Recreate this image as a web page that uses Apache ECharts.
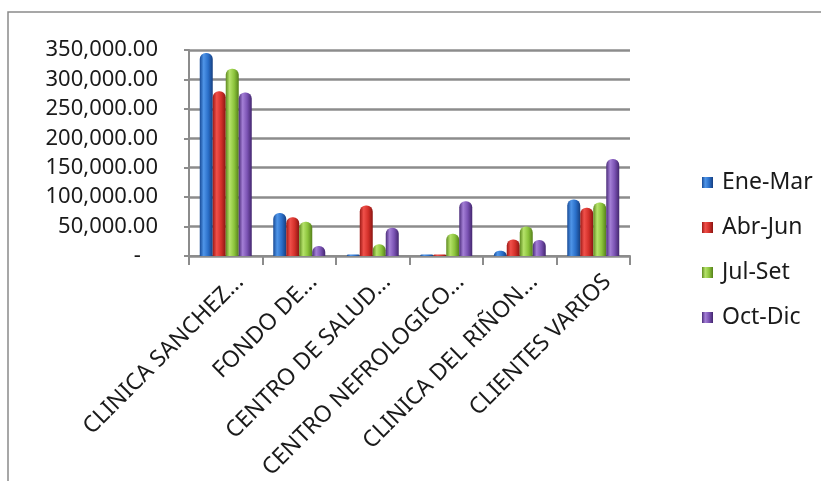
<!DOCTYPE html>
<html>
<head>
<meta charset="utf-8">
<script src="https://cdn.jsdelivr.net/npm/echarts@6/dist/echarts.min.js"></script>
<style>
  html, body { margin: 0; padding: 0; background: #fff; }
  #chart { width: 821px; height: 481px; }
</style>
</head>
<body>
<div id="chart"></div>
<script>
// datos
const categorias = ['CLINICA SANCHEZ...', 'FONDO DE...', 'CENTRO DE SALUD...', 'CENTRO NEFROLOGICO...', 'CLINICA DEL RIÑON...', 'CLIENTES VARIOS'];
const series = ['Ene-Mar', 'Abr-Jun', 'Jul-Set', 'Oct-Dic'];
const eneMar = [345000, 73000, 2500, 2500, 9000, 96000];
const abrJun = [280000, 66000, 86000, 2500, 28000, 82000];
const julSet = [318000, 58000, 20000, 38000, 50000, 91000];
const octDic = [278000, 17000, 48000, 93000, 27000, 165000];
const yTicks = [0, 50000, 100000, 150000, 200000, 250000, 300000, 350000];

const valores = [eneMar, abrJun, julSet, octDic];
// colores tipo cilindro: borde oscuro, centro claro
const colores = [
  ['#174a96', '#4f95e8', '#2a6fc9', '#163f80'],
  ['#9e1a16', '#f0504a', '#d3302a', '#8a1512'],
  ['#5e8a1f', '#b5e26a', '#8cc43c', '#55801a'],
  ['#4b2c7a', '#a47fd6', '#7a52b3', '#43266e']
];
const leyenda = ['#2f78d2', '#d3302a', '#8cc43c', '#7a52b3'];

const myChart = echarts.init(document.getElementById('chart'));

const option = {
  animation: false,
  textStyle: { fontFamily: 'Noto Sans' },
  graphic: [{
    type: 'rect',
    shape: { x: 8, y: 12, width: 830, height: 500 },
    style: { fill: 'none', stroke: '#8a8a8a', lineWidth: 1.5 },
    silent: true
  }],
  legend: {
    orient: 'vertical',
    left: 697,
    top: 166,
    icon: 'rect',
    itemWidth: 11,
    itemHeight: 11,
    itemGap: 22,
    textStyle: { fontSize: 23, color: '#1a1a1a', lineHeight: 23, padding: [0, 0, 0, 4] },
    data: series
  },
  grid: { left: 189, right: 191, top: 50, bottom: 225, outerBoundsMode: 'none' },
  xAxis: {
    type: 'category',
    data: categorias,
    axisLine: { lineStyle: { color: '#8c8c8c', width: 2 } },
    axisTick: { show: true, length: 9, lineStyle: { color: '#8c8c8c', width: 2 } },
    axisLabel: {
      rotate: 45,
      fontSize: 23,
      color: '#1a1a1a',
      margin: 8,
      interval: 0,
      verticalAlign: 'top',
      lineHeight: 40
    }
  },
  yAxis: {
    type: 'value',
    min: 0,
    max: 350000,
    interval: 50000,
    axisLine: { show: true, lineStyle: { color: '#8c8c8c', width: 2 } },
    axisTick: { show: true, length: 5, lineStyle: { color: '#8c8c8c', width: 2 } },
    splitLine: { lineStyle: { color: '#8c8c8c', width: 2.5 } },
    axisLabel: {
      fontSize: 22,
      color: '#1a1a1a',
      margin: 31,
      padding: [8, 0, 0, 0],
      formatter: function (v) {
        if (yTicks.indexOf(v) < 0) return '';
        if (v === 0) return '-   ';
        return v.toLocaleString('en-US', { minimumFractionDigits: 2, maximumFractionDigits: 2 });
      }
    }
  },
  series: series.map(function (nombre, i) {
    const c = colores[i];
    return {
      name: nombre,
      type: 'bar',
      data: valores[i],
      barWidth: 13,
      barGap: '0%',
      color: leyenda[i],
      itemStyle: {
        borderRadius: [6, 6, 0, 0],
        color: new echarts.graphic.LinearGradient(0, 0, 1, 0, [
          { offset: 0, color: c[0] },
          { offset: 0.3, color: c[1] },
          { offset: 0.65, color: c[2] },
          { offset: 1, color: c[3] }
        ])
      }
    };
  })
};

option && myChart.setOption(option);

window.addEventListener('resize', () => {
  myChart.resize();
});
</script>
</body>
</html>
